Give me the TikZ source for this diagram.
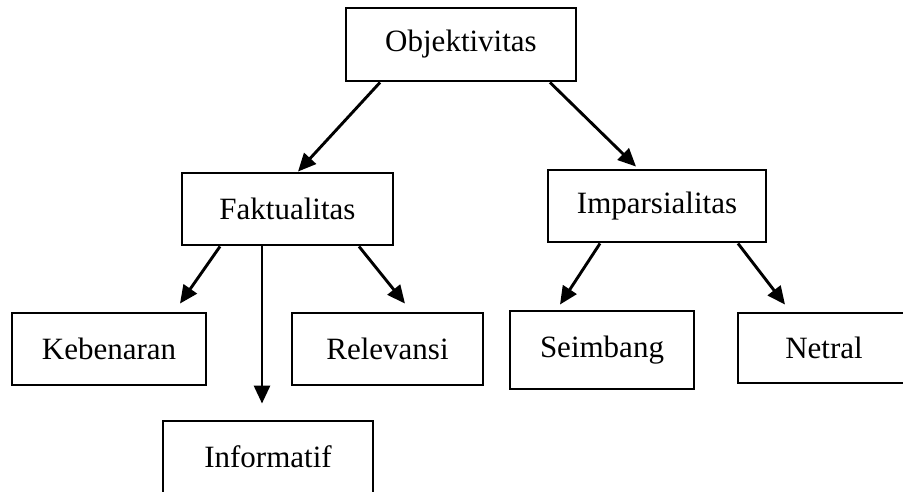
\documentclass[tikz,border=0pt]{standalone}
\usepackage{fontspec}
\setmainfont{Liberation Serif}
\usetikzlibrary{arrows.meta}
\tikzset{
  box/.style={draw, line width=2.9pt, rectangle, inner sep=0pt, font=\fontsize{31}{37}\selectfont},
  arr/.style={line width=2.9pt, -{Triangle[length=18pt,width=16pt]}},
}
\begin{document}
\begin{tikzpicture}[x=1pt,y=-1pt]
\useasboundingbox (0,0) rectangle (903,491);
\node[box, minimum width=230pt, minimum height=73pt] (obj) at (461,44.5) {Objektivitas};
\node[box, minimum width=211pt, minimum height=72pt] (fak) at (287.5,209) {Faktualitas};
\node[box, minimum width=218pt, minimum height=72pt] (imp) at (657,206) {Imparsialitas};
\node[box, minimum width=194pt, minimum height=72pt] (keb) at (109,349) {Kebenaran};
\node[box, minimum width=191pt, minimum height=72pt] (rel) at (387.5,349) {Relevansi};
\node[box, minimum width=184pt, minimum height=78pt] (sei) at (602,350) {Seimbang};
\node[box, minimum width=172pt, minimum height=70pt] (net) at (824,348) {Netral};
\node[box, minimum width=210pt, minimum height=72pt] (inf) at (268,457) {Informatif};

\draw[arr] ([xshift=-81pt]obj.south) -- ([xshift=10.5pt]fak.north);
\draw[arr] ([xshift=89pt]obj.south) -- ([xshift=-21pt,yshift=2pt]imp.north);
\draw[arr] ([xshift=-67.5pt]fak.south) -- ([xshift=71pt,yshift=8pt]keb.north);
\draw[arr] ([xshift=-25.5pt]fak.south) -- ([xshift=-6pt,yshift=16pt]inf.north);
\draw[arr] ([xshift=71.5pt]fak.south) -- ([xshift=17.5pt,yshift=8pt]rel.north);
\draw[arr] ([xshift=-57pt]imp.south) -- ([xshift=-42pt,yshift=5pt]sei.north);
\draw[arr] ([xshift=81pt]imp.south) -- ([xshift=-39pt,yshift=7pt]net.north);
\end{tikzpicture}
\end{document}
